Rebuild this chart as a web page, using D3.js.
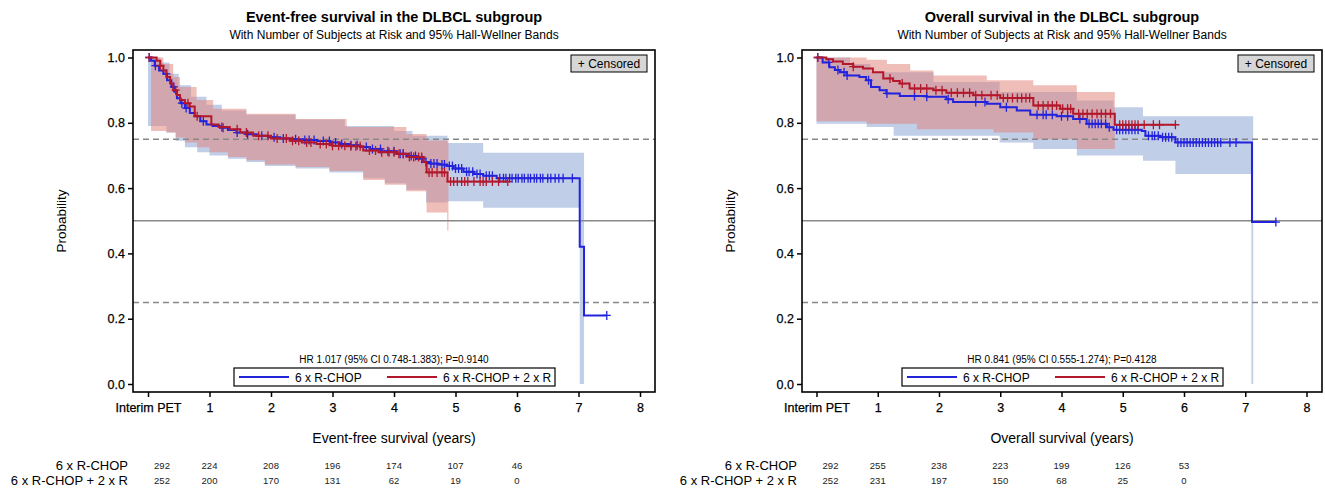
<!DOCTYPE html>
<html>
<head>
<meta charset="utf-8">
<script src="https://cdn.jsdelivr.net/npm/d3@7"></script>
<style>
body { margin: 0; background: #fff; }
text { font-family: "Liberation Sans", Arial, sans-serif; }
</style>
</head>
<body>
<svg></svg>
<script>
var width = 1325;
var height = 492;

var xTicks = [0, 1, 2, 3, 4, 5, 6, 7, 8];
var xTickLabels = ["Interim PET", "1", "2", "3", "4", "5", "6", "7", "8"];
var yTicks = [0, 0.2, 0.4, 0.6, 0.8, 1.0];
var groups = ["6 x R-CHOP", "6 x R-CHOP + 2 x R"];
var riskTimes = [0, 1, 2, 3, 4, 5, 6];

// ---- event-free survival ----
var efsT1 = [0, 0.05, 0.11, 0.18, 0.25, 0.31, 0.38, 0.43, 0.47, 0.53, 0.6, 0.68, 0.76, 0.85, 0.95, 1.05, 1.17, 1.3, 1.44, 1.6, 1.77, 1.95, 2.15, 2.35, 2.52, 2.75, 2.96, 3.12, 3.28, 3.45, 3.61, 3.8, 4.04, 4.2, 4.37, 4.48, 4.59, 4.72, 4.86, 4.97, 5.13, 5.3, 5.45, 5.67, 7.02, 7.09];
var efsS1 = [1.0, 0.99, 0.975, 0.96, 0.95, 0.93, 0.91, 0.895, 0.875, 0.86, 0.845, 0.83, 0.82, 0.805, 0.795, 0.79, 0.785, 0.778, 0.77, 0.765, 0.76, 0.756, 0.752, 0.75, 0.747, 0.744, 0.74, 0.735, 0.731, 0.726, 0.72, 0.713, 0.705, 0.698, 0.69, 0.68, 0.675, 0.672, 0.668, 0.66, 0.65, 0.643, 0.638, 0.63, 0.42, 0.21];
var efsEnd1 = 7.46;
var efsT2 = [0, 0.14, 0.2, 0.25, 0.3, 0.36, 0.41, 0.47, 0.52, 0.6, 0.68, 0.76, 1.03, 1.15, 1.33, 1.5, 1.71, 2.0, 2.31, 2.5, 2.74, 3.0, 3.23, 3.5, 3.75, 4.04, 4.25, 4.48, 4.53, 4.87];
var efsS2 = [1.0, 0.99, 0.975, 0.96, 0.94, 0.92, 0.9, 0.885, 0.87, 0.86, 0.85, 0.82, 0.795, 0.787, 0.78, 0.77, 0.76, 0.752, 0.745, 0.74, 0.735, 0.73, 0.728, 0.715, 0.71, 0.705, 0.695, 0.68, 0.648, 0.62];
var efsEnd2 = 5.85;

var efsBandT1 = [0, 0.2, 0.3, 0.35, 0.45, 0.5, 0.6, 0.7, 0.8, 0.95, 1.0, 1.2, 1.3, 1.6, 1.9, 2.4, 2.95, 3.2, 3.5, 3.85, 4.0, 4.2, 4.3, 4.52, 4.87, 5.45, 7.02];
var efsLo1 = [0.79, 0.79, 0.77, 0.77, 0.745, 0.745, 0.725, 0.725, 0.71, 0.71, 0.70, 0.70, 0.69, 0.68, 0.668, 0.66, 0.648, 0.648, 0.63, 0.615, 0.615, 0.595, 0.595, 0.556, 0.56, 0.54, 0.0];
var efsHi1 = [1.0, 0.985, 0.985, 0.95, 0.95, 0.915, 0.915, 0.88, 0.88, 0.855, 0.855, 0.838, 0.838, 0.825, 0.825, 0.81, 0.81, 0.79, 0.79, 0.79, 0.775, 0.775, 0.76, 0.76, 0.738, 0.708, 0.708];
var efsBandEnd1 = 7.09;
var efsBandT2 = [0.05, 0.25, 0.3, 0.41, 0.45, 0.52, 0.6, 0.79, 0.8, 1.0, 1.06, 1.3, 1.6, 1.9, 2.4, 2.95, 3.23, 3.5, 3.85, 4.2, 4.53, 4.865];
var efsLo2 = [0.775, 0.775, 0.77, 0.77, 0.755, 0.755, 0.74, 0.74, 0.725, 0.71, 0.71, 0.695, 0.685, 0.672, 0.665, 0.652, 0.652, 0.625, 0.61, 0.59, 0.525, 0.47];
var efsHi2 = [1.0, 0.98, 0.98, 0.94, 0.94, 0.91, 0.91, 0.87, 0.87, 0.87, 0.843, 0.843, 0.828, 0.828, 0.812, 0.812, 0.787, 0.787, 0.787, 0.766, 0.746, 0.746];
var efsBandEnd2 = 4.885;

var efsCens1 = [0.02, 0.12, 0.3, 0.42, 0.55, 0.62, 0.9, 1.22, 1.45, 1.62, 1.85, 2.05, 2.2, 2.4, 2.55, 2.62, 2.7, 2.85, 2.95, 3.05, 3.15, 3.3, 3.4, 3.55, 3.65, 3.78, 3.9, 4.0, 4.1, 4.15, 4.28, 4.35, 4.45, 4.52, 4.6, 4.65, 4.7, 4.78, 4.82, 4.9, 4.95, 5.0, 5.05, 5.1, 5.18, 5.22, 5.28, 5.35, 5.4, 5.5, 5.55, 5.6, 5.72, 5.78, 5.82, 5.88, 5.92, 5.98, 6.02, 6.08, 6.12, 6.18, 6.22, 6.28, 6.32, 6.38, 6.42, 6.5, 6.55, 6.62, 6.68, 6.75, 6.9, 7.46];
var efsCens2 = [0.02, 0.2, 0.45, 0.65, 0.8, 1.2, 1.45, 1.6, 1.8, 1.95, 2.1, 2.25, 2.35, 2.45, 2.58, 2.65, 2.8, 2.9, 3.0, 3.1, 3.2, 3.3, 3.38, 3.45, 3.6, 3.7, 3.8, 3.92, 4.0, 4.08, 4.15, 4.25, 4.32, 4.4, 4.45, 4.57, 4.62, 4.7, 4.78, 4.82, 4.92, 4.97, 5.03, 5.1, 5.15, 5.2, 5.3, 5.4, 5.45, 5.5, 5.6, 5.7, 5.85];

var efsRisk1 = [292, 224, 208, 196, 174, 107, 46];
var efsRisk2 = [252, 200, 170, 131, 62, 19, 0];

// ---- overall survival ----
var osT1 = [0, 0.1, 0.21, 0.3, 0.38, 0.49, 0.7, 0.81, 0.89, 1.03, 1.14, 1.36, 1.8, 2.12, 2.23, 2.78, 3.0, 3.27, 3.49, 3.92, 4.19, 4.41, 4.74, 4.85, 5.31, 5.37, 5.61, 5.86, 7.11];
var osS1 = [1.0, 0.985, 0.97, 0.962, 0.955, 0.945, 0.94, 0.93, 0.91, 0.9, 0.89, 0.882, 0.88, 0.872, 0.864, 0.858, 0.848, 0.838, 0.825, 0.82, 0.812, 0.797, 0.786, 0.779, 0.775, 0.76, 0.756, 0.74, 0.496];
var osEnd1 = 7.5;
var osT2 = [0, 0.16, 0.27, 0.43, 0.6, 0.76, 0.92, 1.09, 1.25, 1.36, 1.52, 1.91, 2.12, 2.56, 3.0, 3.54, 3.98, 4.19, 4.87];
var osS2 = [1.0, 0.995, 0.988, 0.98, 0.972, 0.966, 0.955, 0.936, 0.928, 0.92, 0.905, 0.9, 0.892, 0.884, 0.876, 0.853, 0.843, 0.828, 0.794];
var osEnd2 = 5.86;

var osBandT1 = [0, 0.55, 0.82, 0.88, 1.26, 1.91, 2.99, 3.54, 4.25, 4.85, 5.33, 5.86, 7.1];
var osLo1 = [0.797, 0.797, 0.787, 0.787, 0.76, 0.76, 0.74, 0.72, 0.70, 0.70, 0.684, 0.643, 0.0];
var osHi1 = [1.0, 0.98, 0.98, 0.955, 0.955, 0.925, 0.894, 0.894, 0.868, 0.848, 0.82, 0.82, 0.82];
var osBandEnd1 = 7.13;
var osBandT2 = [0, 0.82, 1.15, 1.53, 1.64, 1.91, 2.78, 2.89, 3.54, 4.25];
var osLo2 = [0.805, 0.797, 0.797, 0.797, 0.78, 0.78, 0.78, 0.77, 0.75, 0.72];
var osHi2 = [1.0, 0.993, 0.98, 0.96, 0.96, 0.945, 0.93, 0.93, 0.915, 0.894];
var osBandEnd2 = 4.87;

var osCens1 = [0.02, 0.2, 0.35, 0.45, 0.5, 0.85, 1.15, 1.6, 1.8, 2.15, 2.6, 2.75, 3.1, 3.6, 3.7, 3.75, 3.85, 4.0, 4.1, 4.3, 4.45, 4.5, 4.55, 4.6, 4.65, 4.72, 4.78, 4.9, 4.95, 5.0, 5.05, 5.1, 5.15, 5.2, 5.25, 5.42, 5.48, 5.52, 5.58, 5.65, 5.7, 5.75, 5.8, 5.9, 5.95, 6.0, 6.05, 6.1, 6.15, 6.2, 6.25, 6.3, 6.35, 6.4, 6.45, 6.5, 6.55, 6.6, 6.75, 6.85, 7.5];
var osCens2 = [0.02, 0.6, 1.2, 1.4, 1.6, 1.7, 1.8, 1.95, 2.05, 2.2, 2.3, 2.4, 2.5, 2.6, 2.7, 2.85, 2.95, 3.05, 3.12, 3.2, 3.28, 3.35, 3.42, 3.48, 3.62, 3.7, 3.78, 3.85, 3.92, 4.02, 4.1, 4.15, 4.28, 4.35, 4.42, 4.5, 4.58, 4.65, 4.72, 4.8, 4.95, 5.0, 5.05, 5.1, 5.15, 5.2, 5.25, 5.35, 5.5, 5.6, 5.86];

var osRisk1 = [292, 255, 238, 223, 199, 126, 53];
var osRisk2 = [252, 231, 197, 150, 68, 25, 0];

var blue = '#2323dc';
var red = '#b3172b';
var blueBand = 'rgb(131,157,209)';
var redBand = 'rgb(225,125,115)';

var svg = d3.select('svg')
    .attr("width", width)
    .attr("height", height);

function stepValue(T, S, t) {
    var i = d3.bisectRight(T, t) - 1;
    return S[Math.max(i, 0)];
}

function drawPanel(p) {
    var g = svg.append('g');
    var x = d3.scaleLinear().domain([0, 8]).range([p.x0 + 15, p.x1 - 15]);
    var y = d3.scaleLinear().domain([0, 1]).range([384, 57.5]);
    var top = 50, bottom = 392;
    var cx = (p.left + p.right) / 2;

    // titles
    g.append('text').attr('x', cx).attr('y', 22).attr('text-anchor', 'middle')
        .style('font-size', '14.5px').style('font-weight', 'bold').text(p.title);
    g.append('text').attr('x', cx).attr('y', 39).attr('text-anchor', 'middle')
        .style('font-size', '12px').text("With Number of Subjects at Risk and 95% Hall-Wellner Bands");

    // bands
    var clip = 'clip' + p.id;
    g.append('clipPath').attr('id', clip).append('rect')
        .attr('x', p.left).attr('y', top).attr('width', p.right - p.left).attr('height', bottom - top);
    var plot = g.append('g').attr('clip-path', 'url(#' + clip + ')');

    var area = d3.area().curve(d3.curveStepAfter)
        .x(function(d) { return x(d[0]); })
        .y0(function(d) { return y(d[1]); })
        .y1(function(d) { return y(d[2]); });
    p.bands.forEach(function(b) {
        var pts = b.T.map(function(t, i) { return [t, b.lo[i], b.hi[i]]; });
        pts.push([b.end, b.lo[b.lo.length - 1], b.hi[b.hi.length - 1]]);
        plot.append('path').attr('d', area(pts))
            .attr('fill', b.color).attr('fill-opacity', 0.5);
    });

    // reference lines
    [[0.75, '6,4'], [0.5, null], [0.25, '6,4']].forEach(function(r) {
        plot.append('line').attr('x1', p.left).attr('x2', p.right)
            .attr('y1', y(r[0])).attr('y2', y(r[0]))
            .attr('stroke', '#888').attr('stroke-width', 1.5)
            .attr('stroke-dasharray', r[1]);
    });

    // curves
    var line = d3.line().curve(d3.curveStepAfter)
        .x(function(d) { return x(d[0]); })
        .y(function(d) { return y(d[1]); });
    p.curves.forEach(function(c) {
        var pts = c.T.map(function(t, i) { return [t, c.S[i]]; });
        pts.push([c.end, c.S[c.S.length - 1]]);
        plot.append('path').attr('d', line(pts))
            .attr('fill', 'none').attr('stroke', c.color).attr('stroke-width', 2);
        c.cens.forEach(function(t) {
            var px = x(t), py = y(stepValue(c.T, c.S, t));
            plot.append('path')
                .attr('d', 'M' + (px - 4) + ',' + py + 'h8M' + px + ',' + (py - 4.5) + 'v9')
                .attr('stroke', c.color).attr('stroke-width', 1.3).attr('fill', 'none');
        });
    });

    // frame
    g.append('rect').attr('x', p.left).attr('y', top)
        .attr('width', p.right - p.left).attr('height', bottom - top)
        .attr('fill', 'none').attr('stroke', 'black').attr('stroke-width', 1.6);

    // axes
    var xAxis = g.append('g').attr('transform', 'translate(0,' + bottom + ')')
        .call(d3.axisBottom(x).tickValues(xTicks).tickSize(5).tickPadding(6)
            .tickFormat(function(d, i) { return xTickLabels[i]; }));
    var yAxis = g.append('g').attr('transform', 'translate(' + p.left + ',0)')
        .call(d3.axisLeft(y).tickValues(yTicks).tickSize(5).tickPadding(3)
            .tickFormat(d3.format('.1f')));
    [xAxis, yAxis].forEach(function(a) {
        a.select('.domain').remove();
        a.selectAll('line').attr('stroke', 'black').attr('stroke-width', 1.5);
        a.selectAll('text').style('font-size', '12.5px').style('font-family', '"Liberation Sans", Arial, sans-serif')
            .attr('fill', 'black').attr('stroke', 'black').attr('stroke-width', 0.25);
    });

    g.append('text').attr('x', cx).attr('y', 443).attr('text-anchor', 'middle')
        .style('font-size', '14px').text(p.xTitle);
    g.append('text').attr('transform', 'translate(' + (p.left - 67) + ',' + ((top + bottom) / 2) + ') rotate(-90)')
        .attr('text-anchor', 'middle').style('font-size', '13.5px').text('Probability');

    // censored box
    g.append('rect').attr('x', p.right - 84).attr('y', 55).attr('width', 76).attr('height', 17)
        .attr('fill', '#d6d6d6').attr('stroke', 'black').attr('stroke-width', 1);
    g.append('text').attr('x', p.right - 46).attr('y', 68).attr('text-anchor', 'middle')
        .style('font-size', '12px').text('+ Censored');

    // HR text and legend
    g.append('text').attr('x', cx).attr('y', 363).attr('text-anchor', 'middle')
        .style('font-size', '10px').text(p.hr);
    var lx = cx - 160;
    g.append('rect').attr('x', lx).attr('y', 368).attr('width', 321).attr('height', 18)
        .attr('fill', 'white').attr('stroke', 'black').attr('stroke-width', 1.2);
    g.append('line').attr('x1', lx + 5).attr('x2', lx + 55).attr('y1', 377).attr('y2', 377)
        .attr('stroke', blue).attr('stroke-width', 2);
    g.append('text').attr('x', lx + 61).attr('y', 381.5).style('font-size', '12px').text(groups[0]);
    g.append('line').attr('x1', lx + 153).attr('x2', lx + 203).attr('y1', 377).attr('y2', 377)
        .attr('stroke', red).attr('stroke-width', 2);
    g.append('text').attr('x', lx + 209).attr('y', 381.5).style('font-size', '12px').text(groups[1]);

    // at-risk table
    [p.risk1, p.risk2].forEach(function(r, k) {
        var ry = 470 + k * 15;
        g.append('text').attr('x', p.left - 5).attr('y', ry).attr('text-anchor', 'end')
            .style('font-size', '13px').text(groups[k]);
        r.forEach(function(v, i) {
            var t = riskTimes[i];
            g.append('text').attr('x', x(t) + (t === 0 ? 14 : 0)).attr('y', ry - 1)
                .attr('text-anchor', 'middle').style('font-size', '9.5px').attr('fill', '#222').text(v);
        });
    });
}

drawPanel({
    id: 'efs', left: 133, right: 655, x0: 133, x1: 655,
    title: 'Event-free survival in the DLBCL subgroup',
    xTitle: 'Event-free survival (years)',
    hr: 'HR 1.017 (95% CI 0.748-1.383); P=0.9140',
    bands: [
        {T: efsBandT1, lo: efsLo1, hi: efsHi1, end: efsBandEnd1, color: blueBand},
        {T: efsBandT2, lo: efsLo2, hi: efsHi2, end: efsBandEnd2, color: redBand}
    ],
    curves: [
        {T: efsT1, S: efsS1, end: efsEnd1, cens: efsCens1, color: blue},
        {T: efsT2, S: efsS2, end: efsEnd2, cens: efsCens2, color: red}
    ],
    risk1: efsRisk1, risk2: efsRisk2
});

drawPanel({
    id: 'os', left: 802, right: 1322, x0: 801.5, x1: 1321.5,
    title: 'Overall survival in the DLBCL subgroup',
    xTitle: 'Overall survival (years)',
    hr: 'HR 0.841 (95% CI 0.555-1.274); P=0.4128',
    bands: [
        {T: osBandT1, lo: osLo1, hi: osHi1, end: osBandEnd1, color: blueBand},
        {T: osBandT2, lo: osLo2, hi: osHi2, end: osBandEnd2, color: redBand}
    ],
    curves: [
        {T: osT1, S: osS1, end: osEnd1, cens: osCens1, color: blue},
        {T: osT2, S: osS2, end: osEnd2, cens: osCens2, color: red}
    ],
    risk1: osRisk1, risk2: osRisk2
});
</script>
</body>
</html>
